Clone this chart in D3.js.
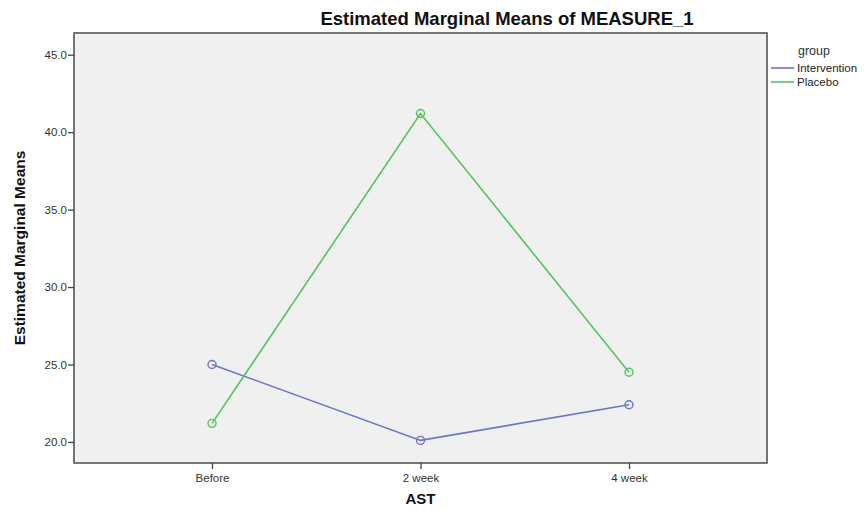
<!DOCTYPE html>
<html>
<head>
<meta charset="utf-8">
<script src="https://cdn.jsdelivr.net/npm/d3@7"></script>
<style>
  html, body { margin: 0; padding: 0; background: #ffffff; }
  svg { display: block; }
  text { font-family: "Liberation Sans", Arial, sans-serif; }
</style>
</head>
<body>
<svg id="chart" width="866" height="510"></svg>
<script>
const categories = ["Before", "2 week", "4 week"];
const seriesNames = ["Intervention", "Placebo"];
const interventionValues = [25.0, 20.1, 22.4];
const placeboValues = [21.2, 41.2, 24.5];
const yTicks = [20, 25, 30, 35, 40, 45];
const seriesColors = ["#6b76c6", "#55c45e"];

const svg = d3.select("#chart");
const frame = { left: 74, right: 767, top: 33, bottom: 463 };

const x = d3.scalePoint().domain(categories)
  .range([frame.left, frame.right]).padding(0.662);
const y = d3.scaleLinear().domain([18.64, 46.4])
  .range([frame.bottom, frame.top]);

// plot background
svg.append("rect")
  .attr("x", frame.left).attr("y", frame.top)
  .attr("width", frame.right - frame.left).attr("height", frame.bottom - frame.top)
  .attr("fill", "#f0f0f0")
  .attr("stroke", "#555").attr("stroke-width", 1.6);

// axes
const yAxis = d3.axisLeft(y).tickValues(yTicks).tickFormat(d3.format(".1f"))
  .tickSize(6).tickSizeOuter(0);
const gy = svg.append("g").attr("transform", `translate(${frame.left},0)`).call(yAxis);
gy.select(".domain").remove();
gy.selectAll("line").attr("stroke", "#444").attr("stroke-width", 1.3);
gy.selectAll("text").attr("fill", "#333").attr("font-size", 11.5).attr("x", -7);

const xAxis = d3.axisBottom(x).tickSize(6).tickSizeOuter(0);
const gx = svg.append("g").attr("transform", `translate(0,${frame.bottom})`).call(xAxis);
gx.select(".domain").remove();
gx.selectAll("line").attr("stroke", "#444").attr("stroke-width", 1.3);
gx.selectAll("text").attr("fill", "#333").attr("font-size", 11.5).attr("y", 11);

// titles
svg.append("text").attr("x", 507).attr("y", 25)
  .attr("text-anchor", "middle").attr("font-weight", "bold")
  .attr("font-size", 18.5).attr("fill", "#111")
  .text("Estimated Marginal Means of MEASURE_1");

svg.append("text")
  .attr("transform", `translate(25,${(frame.top + frame.bottom) / 2}) rotate(-90)`)
  .attr("text-anchor", "middle").attr("font-weight", "bold")
  .attr("font-size", 15.5).attr("fill", "#111")
  .text("Estimated Marginal Means");

svg.append("text").attr("x", (frame.left + frame.right) / 2).attr("y", 504)
  .attr("text-anchor", "middle").attr("font-weight", "bold")
  .attr("font-size", 15).attr("fill", "#111")
  .text("AST");

// series
const series = [interventionValues, placeboValues];
const line = d3.line().x((d, i) => x(categories[i])).y(d => y(d));
series.forEach((vals, si) => {
  svg.append("path").datum(vals)
    .attr("d", line).attr("fill", "none")
    .attr("stroke", seriesColors[si]).attr("stroke-width", 1.6);
  svg.selectAll(null).data(vals).enter().append("circle")
    .attr("cx", (d, i) => x(categories[i])).attr("cy", d => y(d))
    .attr("r", 4).attr("fill", "none")
    .attr("stroke", seriesColors[si]).attr("stroke-width", 1.4);
});

// legend
svg.append("text").attr("x", 798).attr("y", 55)
  .attr("font-size", 12.5).attr("fill", "#333").text("group");
seriesNames.forEach((name, i) => {
  const yy = 68 + i * 14;
  svg.append("line").attr("x1", 771).attr("x2", 794)
    .attr("y1", yy).attr("y2", yy)
    .attr("stroke", seriesColors[i]).attr("stroke-width", 1.6);
  svg.append("text").attr("x", 797).attr("y", yy + 4)
    .attr("font-size", 11.5).attr("fill", "#222").text(name);
});
</script>
</body>
</html>
